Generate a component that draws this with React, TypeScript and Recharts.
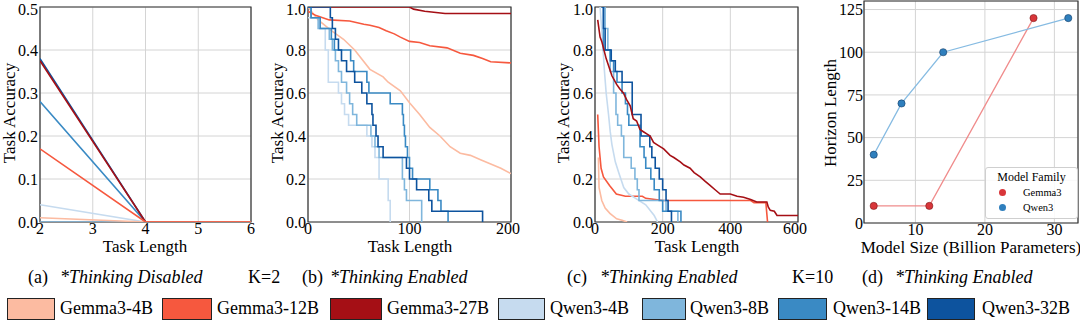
import { LineChart, Line, XAxis, YAxis, CartesianGrid, ReferenceArea } from "recharts";

const FONT = "'Liberation Serif', 'Times New Roman', serif";

const modelNames = ["Gemma3-4B", "Gemma3-12B", "Gemma3-27B", "Qwen3-4B", "Qwen3-8B", "Qwen3-14B", "Qwen3-32B"];
const modelColors = ["#fcbba1", "#f6583e", "#a50f15", "#c6dbef", "#7fb6dc", "#3a8ac4", "#0d539e"];

// (a) K=2, thinking disabled
const lengthsA = [2, 4, 6];
const gemma4bA = [0.01, 0, 0];
const gemma12bA = [0.17, 0, 0];
const gemma27bA = [0.375, 0, 0];
const qwen4bA = [0.04, 0, 0];
const qwen8bA = [0, 0, 0];
const qwen14bA = [0.28, 0, 0];
const qwen32bA = [0.38, 0, 0];

type Pt = [number, number];

// (b) K=2, thinking enabled  [task length, accuracy]
const gemma4bB: Pt[] = [[0, 1], [10, 0.94], [23, 0.89], [35, 0.85], [46, 0.8], [61, 0.71], [74, 0.675], [79, 0.65], [91, 0.61], [100, 0.555], [110, 0.5], [120, 0.44], [130, 0.4], [140, 0.35], [150, 0.32], [160, 0.31], [170, 0.29], [180, 0.27], [190, 0.25], [200, 0.225]];
const gemma12bB: Pt[] = [[0, 0.98], [8, 0.96], [21, 0.94], [41, 0.935], [55, 0.92], [61, 0.915], [70, 0.905], [77, 0.89], [85, 0.875], [91, 0.86], [100, 0.84], [110, 0.835], [120, 0.82], [137, 0.81], [150, 0.785], [163, 0.775], [172, 0.76], [180, 0.745], [200, 0.74]];
const gemma27bB: Pt[] = [[0, 1], [100, 1], [104, 0.99], [115, 0.98], [135, 0.97], [200, 0.97]];
const qwen4bB: Pt[] = [[0, 0.95], [11, 0.9], [17, 0.8], [20, 0.65], [30, 0.6], [33, 0.55], [36, 0.5], [40, 0.45], [58, 0.4], [63, 0.35], [66, 0.3], [70, 0.2], [79, 0.1], [81, 0]];
const qwen8bB: Pt[] = [[0, 1], [3, 0.95], [10, 0.9], [21, 0.85], [24, 0.8], [27, 0.75], [30, 0.7], [33, 0.65], [38, 0.6], [41, 0.55], [44, 0.5], [48, 0.45], [62, 0.4], [66, 0.35], [70, 0.3], [93, 0.2], [95, 0.15], [97, 0.1], [112, 0]];
const qwen14bB: Pt[] = [[0, 1], [3, 0.95], [12, 0.9], [23, 0.85], [26, 0.8], [42, 0.75], [45, 0.7], [58, 0.65], [60, 0.6], [81, 0.55], [93, 0.5], [94, 0.45], [95, 0.4], [96, 0.35], [98, 0.3], [100, 0.25], [103, 0.2], [120, 0.15], [128, 0.1], [131, 0.05], [138, 0]];
const qwen32bB: Pt[] = [[0, 1], [22, 0.95], [24, 0.9], [27, 0.85], [30, 0.8], [33, 0.75], [38, 0.7], [46, 0.65], [53, 0.6], [58, 0.55], [63, 0.5], [64, 0.45], [67, 0.4], [69, 0.35], [74, 0.3], [97, 0.25], [100, 0.2], [107, 0.15], [119, 0.1], [122, 0.05], [172, 0]];

// (c) K=10, thinking enabled
const gemma4bC: Pt[] = [[10, 0.3], [12, 0.16], [20, 0.1], [30, 0.065], [44, 0.04], [64, 0.015], [80, 0.008], [95, 0]];
const gemma12bC: Pt[] = [[8, 0.5], [12, 0.35], [18, 0.25], [25, 0.21], [43, 0.17], [63, 0.13], [90, 0.12], [140, 0.12], [150, 0.11], [200, 0.1], [460, 0.1], [470, 0.09], [505, 0.09], [510, 0]];
const gemma27bC: Pt[] = [[8, 0.94], [15, 0.86], [20, 0.84], [33, 0.76], [50, 0.68], [64, 0.64], [73, 0.62], [84, 0.6], [93, 0.57], [104, 0.54], [113, 0.48], [123, 0.47], [133, 0.43], [143, 0.42], [153, 0.41], [163, 0.4], [173, 0.37], [183, 0.36], [203, 0.34], [222, 0.31], [233, 0.3], [252, 0.28], [263, 0.265], [281, 0.25], [293, 0.23], [311, 0.21], [325, 0.19], [340, 0.17], [355, 0.15], [370, 0.13], [400, 0.13], [420, 0.12], [439, 0.115], [460, 0.105], [478, 0.093], [508, 0.093], [512, 0.07], [518, 0.054], [530, 0.05], [538, 0.03], [600, 0.03]];
const qwen4bC: Pt[] = [[15, 1], [22, 0.85], [28, 0.7], [33, 0.6], [40, 0.5], [45, 0.42], [50, 0.36], [60, 0.28], [70, 0.23], [85, 0.16], [100, 0.13], [120, 0.11], [150, 0.08], [165, 0.05], [175, 0.03], [185, 0]];
const qwen8bC: Pt[] = [[20, 1], [30, 0.9], [38, 0.8], [45, 0.7], [55, 0.6], [62, 0.5], [67, 0.45], [78, 0.4], [85, 0.3], [107, 0.25], [118, 0.2], [125, 0.15], [130, 0.1], [210, 0.05], [245, 0]];
const qwen14bC: Pt[] = [[20, 1], [25, 0.8], [45, 0.75], [55, 0.7], [65, 0.65], [80, 0.6], [90, 0.55], [96, 0.5], [100, 0.45], [133, 0.35], [145, 0.3], [150, 0.25], [165, 0.2], [175, 0.15], [190, 0.1], [200, 0.05], [254, 0]];
const qwen32bC: Pt[] = [[20, 1], [25, 0.9], [30, 0.8], [48, 0.75], [60, 0.7], [80, 0.65], [110, 0.5], [136, 0.4], [162, 0.35], [168, 0.3], [178, 0.25], [190, 0.2], [200, 0.15], [210, 0.1], [216, 0.05], [226, 0]];

// (d) horizon length vs model size
const sizesGemma = [4, 12, 27];
const horizonGemma = [10, 10, 120];
const sizesQwen = [4, 8, 14, 32];
const horizonQwen = [40, 70, 100, 120];

type Row = { x: number; y: number };
type Series = { name: string; color: string; data: Row[]; step?: boolean };

const zip = (xs: number[], ys: number[]): Row[] => xs.map((x, i) => ({ x, y: ys[i] }));
const rows = (p: Pt[]): Row[] => p.map(([x, y]) => ({ x, y }));

const seriesA: Series[] = [
  { name: modelNames[3], color: modelColors[3], data: zip(lengthsA, qwen4bA) },
  { name: modelNames[4], color: modelColors[4], data: zip(lengthsA, qwen8bA) },
  { name: modelNames[5], color: modelColors[5], data: zip(lengthsA, qwen14bA) },
  { name: modelNames[6], color: modelColors[6], data: zip(lengthsA, qwen32bA) },
  { name: modelNames[2], color: modelColors[2], data: zip(lengthsA, gemma27bA) },
  { name: modelNames[0], color: modelColors[0], data: zip(lengthsA, gemma4bA) },
  { name: modelNames[1], color: modelColors[1], data: zip(lengthsA, gemma12bA) },
];

const seriesB: Series[] = [
  { name: modelNames[0], color: modelColors[0], data: rows(gemma4bB) },
  { name: modelNames[1], color: modelColors[1], data: rows(gemma12bB) },
  { name: modelNames[2], color: modelColors[2], data: rows(gemma27bB) },
  { name: modelNames[3], color: modelColors[3], data: rows(qwen4bB), step: true },
  { name: modelNames[4], color: modelColors[4], data: rows(qwen8bB), step: true },
  { name: modelNames[5], color: modelColors[5], data: rows(qwen14bB), step: true },
  { name: modelNames[6], color: modelColors[6], data: rows(qwen32bB), step: true },
];

const seriesC: Series[] = [
  { name: modelNames[0], color: modelColors[0], data: rows(gemma4bC) },
  { name: modelNames[1], color: modelColors[1], data: rows(gemma12bC) },
  { name: modelNames[3], color: modelColors[3], data: rows(qwen4bC) },
  { name: modelNames[4], color: modelColors[4], data: rows(qwen8bC), step: true },
  { name: modelNames[5], color: modelColors[5], data: rows(qwen14bC), step: true },
  { name: modelNames[6], color: modelColors[6], data: rows(qwen32bC), step: true },
  { name: modelNames[2], color: modelColors[2], data: rows(gemma27bC) },
];

const tickStyle = { fontSize: 16, fill: "#000", fontFamily: "Liberation Serif" };

function Panel(props: {
  left: number;
  width: number;
  right: number;
  top: number;
  series: Series[];
  xDomain: [number, number];
  xTicks: number[];
  yDomain: [number, number];
  yTicks: number[];
  yFmt: (v: number) => string;
  yGap: number;
}) {
  const { left, width, right, top, series, xDomain, xTicks, yDomain, yTicks, yFmt, yGap } = props;
  return (
    <div style={{ position: "absolute", left, top: 0 }}>
      <LineChart width={width} height={260} margin={{ top, right, bottom: 0, left: 0 }} style={{ fontFamily: FONT }}>
        <CartesianGrid stroke="#d4d4d4" strokeWidth={1} />
        <XAxis
          type="number"
          dataKey="x"
          domain={xDomain}
          ticks={xTicks}
          allowDataOverflow
          height={38}
          tickSize={0}
          tickMargin={1}
          axisLine={false}
          tick={tickStyle}
        />
        <YAxis
          type="number"
          dataKey="y"
          domain={yDomain}
          ticks={yTicks}
          allowDataOverflow
          width={40}
          tickSize={0}
          tickMargin={yGap}
          axisLine={false}
          tick={tickStyle}
          tickFormatter={yFmt}
        />
        {series.map((s) => (
          <Line
            key={s.name}
            data={s.data}
            dataKey="y"
            name={s.name}
            type={s.step ? "stepAfter" : "linear"}
            stroke={s.color}
            strokeWidth={1.6}
            dot={false}
            isAnimationActive={false}
          />
        ))}
        <ReferenceArea x1={xDomain[0]} x2={xDomain[1]} y1={yDomain[0]} y2={yDomain[1]} fill="none" stroke="#333" strokeWidth={1.2} />
      </LineChart>
    </div>
  );
}

function ScatterLines() {
  return (
    <div style={{ position: "absolute", left: 824, top: 0 }}>
      <LineChart width={256} height={260} margin={{ top: 1, right: 2, bottom: 0, left: 0 }} style={{ fontFamily: FONT }}>
        <CartesianGrid stroke="#d4d4d4" strokeWidth={1} />
        <XAxis
          type="number"
          dataKey="x"
          domain={[2.6, 33.4]}
          ticks={[10, 20, 30]}
          allowDataOverflow
          height={37}
          tickSize={0}
          tickMargin={1}
          axisLine={false}
          tick={tickStyle}
        />
        <YAxis
          type="number"
          dataKey="y"
          domain={[0, 130]}
          ticks={[0, 25, 50, 75, 100, 125]}
          allowDataOverflow
          width={40}
          tickSize={0}
          tickMargin={1}
          axisLine={false}
          tick={tickStyle}
        />
        <Line
          data={zip(sizesGemma, horizonGemma)}
          dataKey="y"
          name="Gemma3"
          stroke="#f08c8c"
          strokeWidth={1.3}
          dot={{ r: 3.6, fill: "#d8363a", stroke: "#7a1a1a", strokeWidth: 0.6 }}
          isAnimationActive={false}
        />
        <Line
          data={zip(sizesQwen, horizonQwen)}
          dataKey="y"
          name="Qwen3"
          stroke="#86bbe2"
          strokeWidth={1.3}
          dot={{ r: 3.6, fill: "#2f7fbd", stroke: "#143c66", strokeWidth: 0.6 }}
          isAnimationActive={false}
        />
        <ReferenceArea x1={2.6} x2={33.4} y1={0} y2={130} fill="none" stroke="#333" strokeWidth={1.2} />
      </LineChart>
    </div>
  );
}

function YTitle({ cx, cy, text }: { cx: number; cy: number; text: string }) {
  return (
    <div
      style={{
        position: "absolute",
        left: cx,
        top: cy,
        transform: "translate(-50%, -50%) rotate(-90deg)",
        fontFamily: FONT,
        fontSize: 17,
        lineHeight: "17px",
        whiteSpace: "nowrap",
      }}
    >
      {text}
    </div>
  );
}

function XTitle({ cx, top, text }: { cx: number; top: number; text: string }) {
  return (
    <div
      style={{
        position: "absolute",
        left: cx,
        top,
        transform: "translateX(-50%)",
        fontFamily: FONT,
        fontSize: 17,
        lineHeight: "17px",
        whiteSpace: "nowrap",
      }}
    >
      {text}
    </div>
  );
}

const captionStyle = { position: "absolute" as const, top: 268, fontSize: 18, lineHeight: "18px", whiteSpace: "nowrap" as const };

const legendBoxes = [
  { l: 7, w: 48, t: 60 },
  { l: 162, w: 50, t: 217 },
  { l: 330, w: 52, t: 387 },
  { l: 498, w: 47, t: 550 },
  { l: 642, w: 44, t: 690 },
  { l: 778, w: 49, t: 833 },
  { l: 927, w: 48, t: 982 },
];

export default function App() {
  return (
    <div
      style={{
        position: "absolute",
        left: 0,
        top: 0,
        width: 1080,
        height: 329,
        background: "#fff",
        fontFamily: FONT,
        color: "#000",
        overflow: "hidden",
      }}
    >
      <Panel left={0} width={260} right={9} top={7} series={seriesA} xDomain={[2, 6]} xTicks={[2, 3, 4, 5, 6]} yDomain={[0, 0.5]} yTicks={[0, 0.1, 0.2, 0.3, 0.4, 0.5]} yFmt={(v) => v.toFixed(1)} yGap={2} />
      <Panel left={268} width={252} right={9} top={7} series={seriesB} xDomain={[0, 200]} xTicks={[0, 100, 200]} yDomain={[0, 1]} yTicks={[0, 0.2, 0.4, 0.6, 0.8, 1]} yFmt={(v) => v.toFixed(1)} yGap={2} />
      <Panel left={555} width={252} right={9} top={7} series={seriesC} xDomain={[0, 600]} xTicks={[0, 200, 400, 600]} yDomain={[0, 1]} yTicks={[0, 0.2, 0.4, 0.6, 0.8, 1]} yFmt={(v) => v.toFixed(1)} yGap={2} />
      <ScatterLines />

      <YTitle cx={9} cy={113} text="Task Accuracy" />
      <YTitle cx={277} cy={113} text="Task Accuracy" />
      <YTitle cx={563} cy={113} text="Task Accuracy" />
      <YTitle cx={830} cy={113} text="Horizon Length" />
      <XTitle cx={145} top={238} text="Task Length" />
      <XTitle cx={410} top={238} text="Task Length" />
      <XTitle cx={697} top={238} text="Task Length" />
      <XTitle cx={971} top={239} text="Model Size (Billion Parameters)" />

      {/* legend inside panel d */}
      <div
        style={{
          position: "absolute",
          left: 985,
          top: 167,
          width: 91,
          height: 50,
          border: "1px solid #cfcfcf",
          borderRadius: 3,
          background: "rgba(255,255,255,0.85)",
        }}
      >
        <div style={{ position: "absolute", left: 0, width: 91, top: 3, textAlign: "center", fontSize: 12, lineHeight: "12px" }}>Model Family</div>
        {[
          { label: "Gemma3", fill: "#d8363a", top: 20 },
          { label: "Qwen3", fill: "#2f7fbd", top: 35 },
        ].map((e) => (
          <div key={e.label}>
            <div style={{ position: "absolute", left: 13, top: e.top + 1, width: 7, height: 7, borderRadius: "50%", background: e.fill }} />
            <div style={{ position: "absolute", left: 37, top: e.top, fontSize: 10.5, lineHeight: "10px" }}>{e.label}</div>
          </div>
        ))}
      </div>

      {/* captions */}
      <span style={{ ...captionStyle, left: 28 }}>(a)</span>
      <span style={{ ...captionStyle, left: 60, fontStyle: "italic" }}>*Thinking Disabled</span>
      <span style={{ ...captionStyle, left: 248 }}>K=2</span>
      <span style={{ ...captionStyle, left: 302 }}>(b)</span>
      <span style={{ ...captionStyle, left: 330, fontStyle: "italic" }}>*Thinking Enabled</span>
      <span style={{ ...captionStyle, left: 567 }}>(c)</span>
      <span style={{ ...captionStyle, left: 600, fontStyle: "italic" }}>*Thinking Enabled</span>
      <span style={{ ...captionStyle, left: 792 }}>K=10</span>
      <span style={{ ...captionStyle, left: 862 }}>(d)</span>
      <span style={{ ...captionStyle, left: 895, fontStyle: "italic" }}>*Thinking Enabled</span>

      {/* shared model legend */}
      {legendBoxes.map((b, i) => (
        <div key={modelNames[i]}>
          <div
            style={{
              position: "absolute",
              left: b.l,
              top: 298,
              width: b.w - 2,
              height: 20,
              background: modelColors[i],
              border: "1px solid #222",
            }}
          />
          <div style={{ position: "absolute", left: b.t, top: 299, fontSize: 18, lineHeight: "19px", whiteSpace: "nowrap" }}>{modelNames[i]}</div>
        </div>
      ))}
    </div>
  );
}
